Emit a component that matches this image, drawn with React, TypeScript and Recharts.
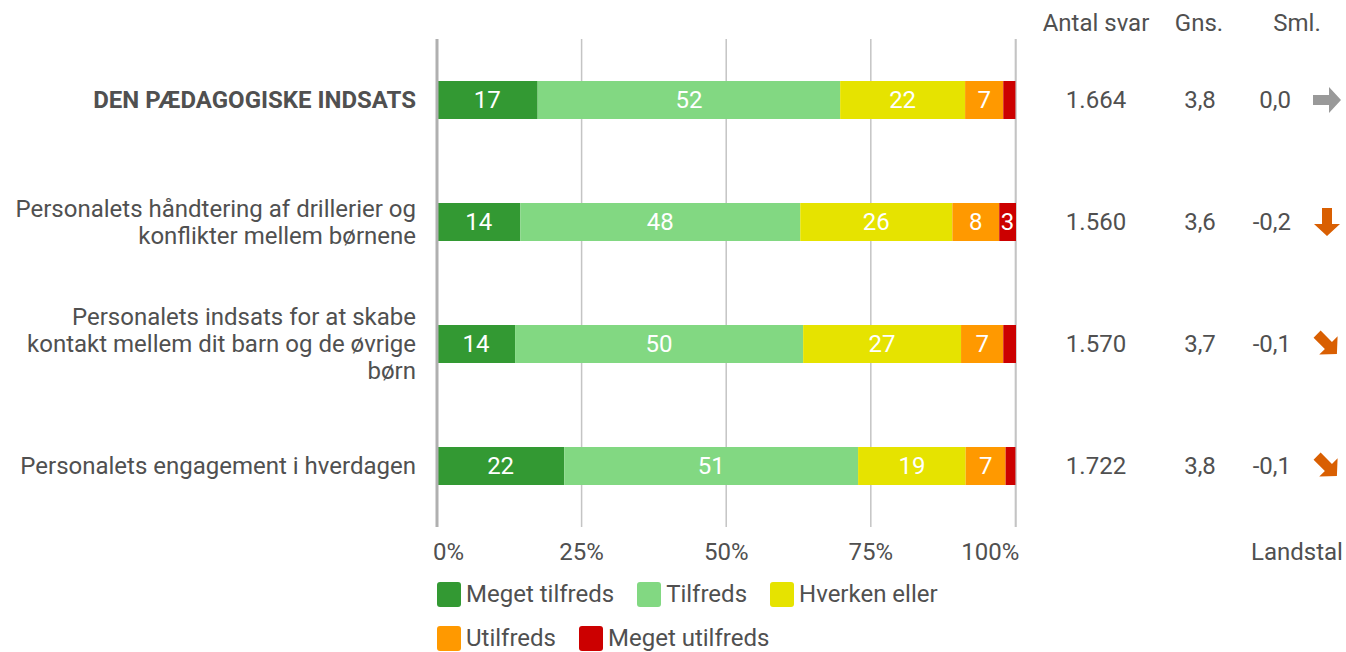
import React from "react";
import { BarChart, Bar, XAxis, YAxis, CartesianGrid, LabelList } from "recharts";

// Survey rows (top to bottom); "\n" marks where the label wraps
const categories = [
  "DEN PÆDAGOGISKE INDSATS",
  "Personalets håndtering af drillerier og\nkonflikter mellem børnene",
  "Personalets indsats for at skabe\nkontakt mellem dit barn og de øvrige\nbørn",
  "Personalets engagement i hverdagen",
];

// Shares in percent
const megetTilfreds = [17.4, 14.4, 13.5, 22.0];
const tilfreds = [52.3, 48.4, 49.8, 50.8];
const hverkenEller = [21.6, 26.3, 27.3, 18.6];
const utilfreds = [6.6, 8.1, 7.3, 6.9];
const megetUtilfreds = [2.1, 2.9, 2.2, 1.7];

// Right-hand columns
const antalSvar = [1664, 1560, 1570, 1722];
const gennemsnit = [3.8, 3.6, 3.7, 3.8];
const sammenligning = [0.0, -0.2, -0.1, -0.1];

const xTicks = [0, 25, 50, 75, 100];

const series = [
  { key: "megetTilfreds", name: "Meget tilfreds", color: "#339933", values: megetTilfreds },
  { key: "tilfreds", name: "Tilfreds", color: "#82d882", values: tilfreds },
  { key: "hverkenEller", name: "Hverken eller", color: "#e6e300", values: hverkenEller },
  { key: "utilfreds", name: "Utilfreds", color: "#ff9900", values: utilfreds },
  { key: "megetUtilfreds", name: "Meget utilfreds", color: "#cc0000", values: megetUtilfreds },
];

const data = categories.map((name, i) => {
  const row: Record<string, number | string> = { name };
  series.forEach((s) => (row[s.key] = s.values[i]));
  return row;
});

const FONT = "Roboto, 'Noto Sans', sans-serif";
const TEXT = "#505050";
const FS = 24;

const fmtDa = (v: number, d: number) => v.toFixed(d).replace(".", ",");
const fmtThousands = (v: number) => String(v).replace(/\B(?=(\d{3})+(?!\d))/g, ".");

function CategoryTick(props: any) {
  const { x, y, payload, index } = props;
  const lines = String(payload.value).split("\n");
  const lh = 27;
  const top = y - ((lines.length - 1) * lh) / 2 + 8;
  return (
    <text
      x={x - 21}
      y={top}
      textAnchor="end"
      fill={TEXT}
      fontSize={FS}
      fontFamily={FONT}
      fontWeight={index === 0 ? 700 : 400}
    >
      {lines.map((l, i) => (
        <tspan key={i} x={x - 21} dy={i === 0 ? 0 : lh}>
          {l}
        </tspan>
      ))}
    </text>
  );
}

function arrowAngle(v: number) {
  if (v >= 0.2) return -90;
  if (v > 0) return -45;
  if (v === 0) return 0;
  if (v > -0.2) return 45;
  return 90;
}

function StatsTick(props: any) {
  const { x, y, index } = props;
  const v = sammenligning[index];
  const color = v === 0 ? "#999999" : v < 0 ? "#d95f02" : "#3a9a3a";
  return (
    <g fontFamily={FONT} fontSize={FS} fill={TEXT}>
      <text x={x + 80} y={y + 8} textAnchor="middle">
        {fmtThousands(antalSvar[index])}
      </text>
      <text x={x + 184} y={y + 8} textAnchor="middle">
        {fmtDa(gennemsnit[index], 1)}
      </text>
      <text x={x + 275} y={y + 8} textAnchor="end">
        {fmtDa(sammenligning[index], 1)}
      </text>
      <g transform={`translate(${x + 311},${y}) rotate(${arrowAngle(v)})`}>
        <path d="M-14,-5 L2,-5 L2,-13 L14,0 L2,13 L2,5 L-14,5 Z" fill={color} />
      </g>
    </g>
  );
}

function PercentTick(props: any) {
  const { x, y, payload, index } = props;
  const anchor = index === 0 ? "start" : index === xTicks.length - 1 ? "end" : "middle";
  const dx = index === 0 ? -4 : index === xTicks.length - 1 ? 4 : 0;
  return (
    <text x={x + dx} y={y + 33} textAnchor={anchor} fill={TEXT} fontSize={FS} fontFamily={FONT}>
      {payload.value}%
    </text>
  );
}

const renderValue = (props: any) => {
  const { x, y, width, height, value } = props;
  const r = Math.round(Number(value));
  if (r < 3) return null;
  return (
    <text
      x={x + width / 2}
      y={y + height / 2 + 8}
      textAnchor="middle"
      fill="#ffffff"
      fontSize={FS}
      fontFamily={FONT}
    >
      {r}
    </text>
  );
};

export default function App() {
  return (
    <div style={{ position: "absolute", left: 0, top: 0, width: 1346, height: 652, background: "#fff", fontFamily: FONT }}>
      <BarChart
        width={1346}
        height={652}
        data={data}
        layout="vertical"
        margin={{ top: 39, right: 0, bottom: 95, left: 0 }}
        barSize={38}
      >
        <CartesianGrid horizontal={false} stroke="#c4c4c4" strokeWidth={1.5} />
        <XAxis
          type="number"
          domain={[0, 100]}
          ticks={xTicks}
          axisLine={false}
          tickLine={false}
          tickSize={0}
          tickMargin={0}
          height={30}
          tick={<PercentTick />}
          interval={0}
        />
        <YAxis
          type="category"
          dataKey="name"
          width={437}
          axisLine={{ stroke: "#b0b0b0", strokeWidth: 3 }}
          tickLine={false}
          tickSize={0}
          tickMargin={0}
          tick={<CategoryTick />}
          interval={0}
        />
        <YAxis
          yAxisId="stats"
          type="category"
          dataKey="name"
          orientation="right"
          width={330}
          axisLine={false}
          tickLine={false}
          tickSize={0}
          tickMargin={0}
          tick={<StatsTick />}
          interval={0}
        />
        {series.map((s) => (
          <Bar key={s.key} dataKey={s.key} name={s.name} stackId="a" fill={s.color} isAnimationActive={false}>
            <LabelList dataKey={s.key} content={renderValue} />
          </Bar>
        ))}
      </BarChart>

      {[
        { text: "Antal svar", x: 1096, y: 23 },
        { text: "Gns.", x: 1199, y: 23 },
        { text: "Sml.", x: 1297, y: 23 },
        { text: "Landstal", x: 1297, y: 552 },
      ].map((h) => (
        <div
          key={h.text}
          style={{
            position: "absolute",
            left: h.x,
            top: h.y,
            transform: "translate(-50%, -50%)",
            color: TEXT,
            fontSize: FS,
            whiteSpace: "nowrap",
          }}
        >
          {h.text}
        </div>
      ))}

      <div
        style={{
          position: "absolute",
          left: 437,
          top: 580,
          width: 545,
          display: "flex",
          flexWrap: "wrap",
          columnGap: 23,
          rowGap: 16,
        }}
      >
        {series.map((s) => (
          <div key={s.key} style={{ display: "flex", alignItems: "center", height: 28, color: TEXT, fontSize: FS }}>
            <span style={{ width: 24, height: 25, background: s.color, borderRadius: 3, marginRight: 5 }} />
            {s.name}
          </div>
        ))}
      </div>
    </div>
  );
}
